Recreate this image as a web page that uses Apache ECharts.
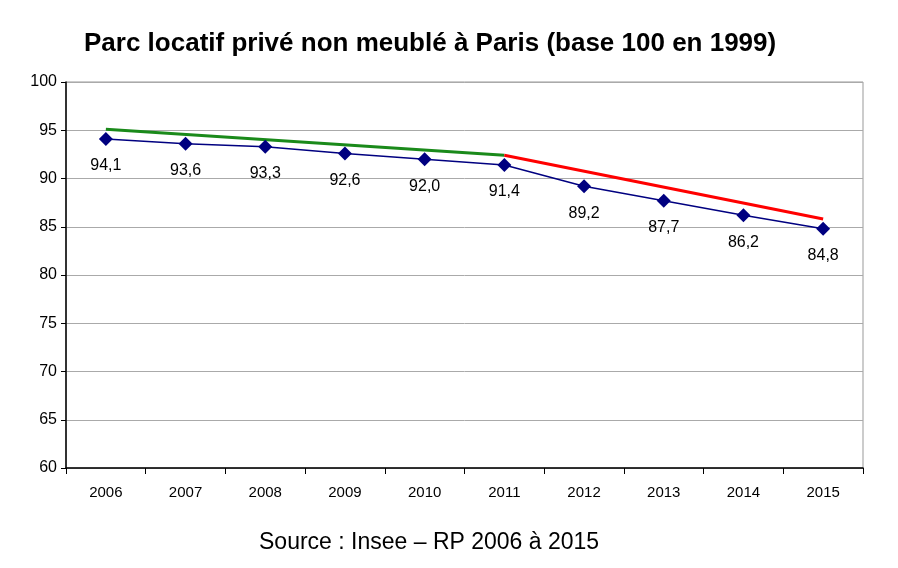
<!DOCTYPE html>
<html>
<head>
<meta charset="utf-8">
<script src="https://cdn.jsdelivr.net/npm/echarts@6/dist/echarts.min.js"></script>
<style>
  html, body { margin: 0; padding: 0; background: #fff; }
  #chart { width: 898px; height: 568px; }
</style>
</head>
<body>
<div id="chart"></div>
<script>
var years = ['2006', '2007', '2008', '2009', '2010', '2011', '2012', '2013', '2014', '2015'];
var parc = [94.1, 93.6, 93.3, 92.6, 92.0, 91.4, 89.2, 87.7, 86.2, 84.8];
// trend lines drawn above the series
var trendGreen = [95.1, null, null, null, null, 92.4, null, null, null, null];
var trendRed = [null, null, null, null, null, 92.4, null, null, null, 85.8];

var myChart = echarts.init(document.getElementById('chart'));

myChart.setOption({
    animation: false,
    textStyle: { fontFamily: 'Liberation Sans, Arial, sans-serif', color: '#000' },
    title: [{
        text: 'Parc locatif privé non meublé à Paris (base 100 en 1999)',
        left: 79,
        top: 26,
        textStyle: { fontSize: 26, fontWeight: 'bold', color: '#000', fontFamily: 'Liberation Sans, Arial, sans-serif' }
    }, {
        text: 'Source : Insee – RP 2006 à 2015',
        left: 254,
        top: 526,
        textStyle: { fontSize: 23, fontWeight: 'normal', color: '#000', fontFamily: 'Liberation Sans, Arial, sans-serif' }
    }],
    grid: { left: 66, right: 35, top: 82, bottom: 100, show: true, borderColor: '#999', borderWidth: 1 },
    xAxis: {
        type: 'category',
        data: years,
        boundaryGap: true,
        axisLine: { lineStyle: { color: '#000', width: 1.5 } },
        axisTick: { show: true, length: 6, lineStyle: { color: '#000' } },
        axisLabel: { fontSize: 15, color: '#000', margin: 17 }
    },
    yAxis: {
        type: 'value',
        min: 60,
        max: 100,
        interval: 5,
        axisLine: { show: true, lineStyle: { color: '#000', width: 1.5 } },
        axisTick: { show: true, length: 5, lineStyle: { color: '#000' } },
        axisLabel: { fontSize: 16, color: '#000', margin: 9 },
        splitLine: { lineStyle: { color: '#aaa', width: 1 } }
    },
    series: [{
        name: 'Parc',
        type: 'line',
        data: parc,
        symbol: 'diamond',
        symbolSize: 14,
        itemStyle: { color: '#000080' },
        lineStyle: { color: '#000080', width: 1.5 },
        label: {
            show: true,
            position: 'bottom',
            distance: 12,
            fontSize: 16,
            color: '#000',
            formatter: function (p) { return p.value.toFixed(1).replace('.', ','); }
        },
        z: 3
    }, {
        name: 'Tendance 2006-2011',
        type: 'line',
        data: trendGreen,
        connectNulls: true,
        symbol: 'none',
        lineStyle: { color: '#1a8a1a', width: 3 },
        z: 2
    }, {
        name: 'Tendance 2011-2015',
        type: 'line',
        data: trendRed,
        connectNulls: true,
        symbol: 'none',
        lineStyle: { color: '#ff0000', width: 3 },
        z: 2
    }]
});

window.addEventListener('resize', function () {
    myChart.resize();
});
</script>
</body>
</html>
